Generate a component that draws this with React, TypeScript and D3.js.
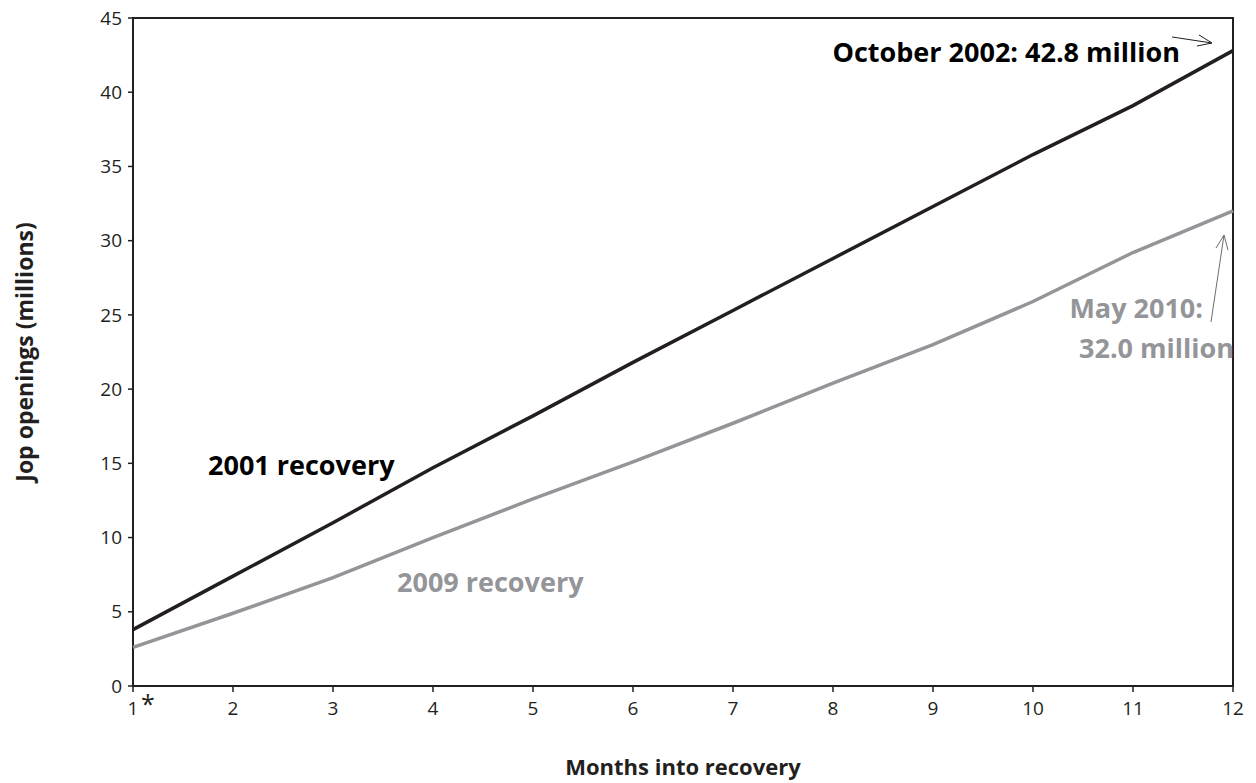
import React from "react";
import * as d3 from "d3";

// months into recovery
const months = [1, 2, 3, 4, 5, 6, 7, 8, 9, 10, 11, 12];
// job openings, millions (cumulative)
const recovery2001 = [3.8, 7.4, 11.0, 14.7, 18.2, 21.8, 25.3, 28.8, 32.3, 35.8, 39.1, 42.8];
const recovery2009 = [2.6, 4.9, 7.3, 10.0, 12.6, 15.1, 17.7, 20.4, 23.0, 25.9, 29.2, 32.0];
const yTicks = [0, 5, 10, 15, 20, 25, 30, 35, 40, 45];

const W = 1256;
const H = 783;
const margin = { top: 18, right: 23, bottom: 97, left: 133 };
const font = "'Open Sans', 'Noto Sans', sans-serif";
const dark = "#231f20";
const grey = "#939598";

export default function App() {
  const x = d3
    .scaleLinear()
    .domain([1, 12])
    .range([margin.left, W - margin.right]);
  const y = d3
    .scaleLinear()
    .domain([0, 45])
    .range([H - margin.bottom, margin.top]);

  const line = d3
    .line<number>()
    .x((_, i) => x(months[i]))
    .y((d) => y(d));

  const x0 = x(1);
  const x1 = x(12);
  const y0 = y(0);
  const yTop = y(45);

  return (
    <svg
      width={W}
      height={H}
      style={{ position: "absolute", left: 0, top: 0, background: "#fff" }}
      fontFamily={font}
    >
      {/* frame */}
      <rect
        x={x0}
        y={yTop}
        width={x1 - x0}
        height={y0 - yTop}
        fill="none"
        stroke={dark}
        strokeWidth={2}
      />

      {/* y ticks */}
      {yTicks.map((t) => (
        <g key={t}>
          <line x1={x0 - 5} x2={x0} y1={y(t)} y2={y(t)} stroke={dark} strokeWidth={1.5} />
          <text
            x={x0 - 11}
            y={y(t)}
            dy="0.35em"
            textAnchor="end"
            fontSize={19}
            fill={dark}
          >
            {t}
          </text>
        </g>
      ))}

      {/* x ticks */}
      {months.map((m) => (
        <g key={m}>
          <line x1={x(m)} x2={x(m)} y1={y0} y2={y0 + 6} stroke={dark} strokeWidth={1.5} />
          <text x={x(m)} y={y0 + 29} textAnchor="middle" fontSize={19} fill={dark}>
            {m}
          </text>
        </g>
      ))}
      <text x={x(1) + 8} y={y0 + 27} fontSize={25} fill={dark}>
        *
      </text>

      {/* series */}
      <path d={line(recovery2009) ?? ""} fill="none" stroke={grey} strokeWidth={3.5} />
      <path d={line(recovery2001) ?? ""} fill="none" stroke={dark} strokeWidth={3.5} />

      {/* axis titles */}
      <text
        x={(x0 + x1) / 2}
        y={775}
        textAnchor="middle"
        fontSize={22}
        fontWeight="bold"
        fill={dark}
      >
        Months into recovery
      </text>
      <text
        transform={`translate(33, ${(y0 + yTop) / 2}) rotate(-90)`}
        textAnchor="middle"
        fontSize={23}
        fontWeight="bold"
        fill={dark}
      >
        Jop openings (millions)
      </text>

      {/* series labels */}
      <text x={208} y={475} fontSize={27} fontWeight="bold" fill="#000">
        2001 recovery
      </text>
      <text x={397} y={592} fontSize={27} fontWeight="bold" fill={grey}>
        2009 recovery
      </text>

      {/* end annotations */}
      <text x={1180} y={62} textAnchor="end" fontSize={27} fontWeight="bold" fill="#000">
        October 2002: 42.8 million
      </text>
      <line x1={1172} y1={37} x2={1212} y2={43} stroke={dark} strokeWidth={1} />
      <path d="M1199,35 L1212,43 L1197,46" fill="none" stroke={dark} strokeWidth={1} />

      <text x={1203} y={318} textAnchor="end" fontSize={27} fontWeight="bold" fill={grey}>
        May 2010:
      </text>
      <text x={1234} y={358} textAnchor="end" fontSize={27} fontWeight="bold" fill={grey}>
        32.0 million
      </text>
      <line x1={1211} y1={322} x2={1224} y2={235} stroke="#6d6e71" strokeWidth={1} />
      <path d="M1216,248 L1224,235 L1228,250" fill="none" stroke="#6d6e71" strokeWidth={1} />
    </svg>
  );
}
